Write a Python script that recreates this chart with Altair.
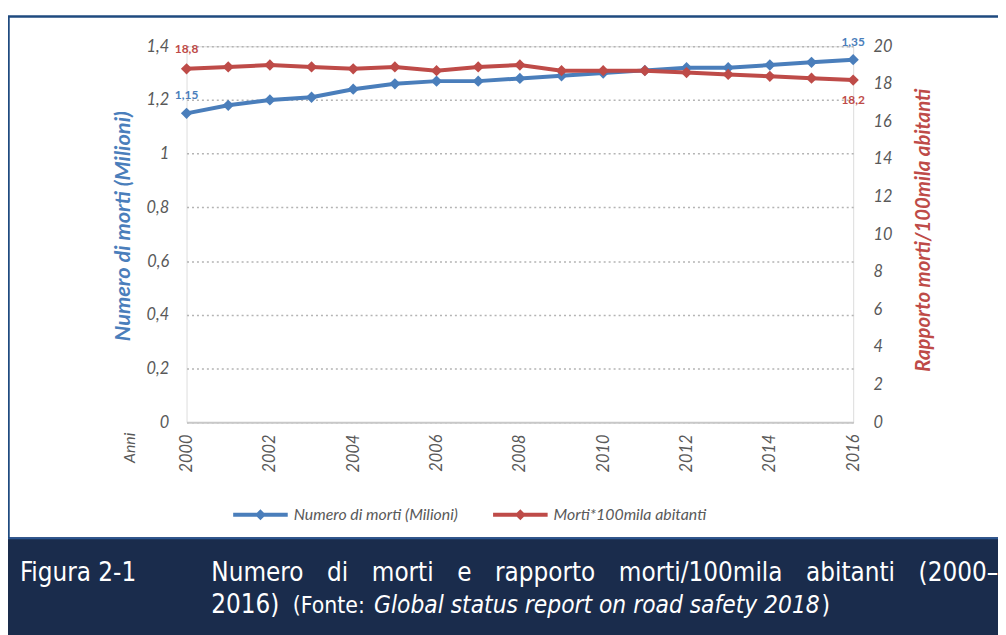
import altair as alt
import pandas as pd

# ---------------- data ----------------
anni = list(range(2000, 2017))
morti_milioni = [1.15, 1.18, 1.20, 1.21, 1.24, 1.26, 1.27, 1.27, 1.28,
                 1.29, 1.30, 1.31, 1.32, 1.32, 1.33, 1.34, 1.35]
morti_100mila = [18.8, 18.9, 19.0, 18.9, 18.8, 18.9, 18.7, 18.9, 19.0,
                 18.7, 18.7, 18.7, 18.6, 18.5, 18.4, 18.3, 18.2]
serie = ["Numero di morti (Milioni)", "Morti*100mila abitanti"]
colori = ["#4a7ebb", "#be4b48"]
tick_sx = [0, 0.2, 0.4, 0.6, 0.8, 1.0, 1.2, 1.4]
tick_dx = list(range(0, 21, 2))
tick_anni = list(range(2000, 2017, 2))
titolo_sx = "Numero di morti (Milioni)"
titolo_dx = "Rapporto morti/100mila abitanti"
titolo_x = "Anni"
didascalia_num = "Figura 2-1"
didascalia_1 = "Numero di morti e rapporto morti/100mila abitanti (2000–"
didascalia_2a = "2016)"
didascalia_2b = "(Fonte: "
didascalia_2c = "Global status report on road safety 2018"
didascalia_2d = ")"

df = pd.DataFrame({"anno": anni, "morti": morti_milioni, "tasso": morti_100mila})
one = pd.DataFrame({"k": [0]})

W, H = 672, 379
FONT = "Lato"
GRAY = "#595959"
NAVY = "#1a2c4c"
FRAME = "#1f4a7f"
CAPFONT = "DejaVu Sans Condensed"

x = alt.X("anno:Q", scale=alt.Scale(domain=[2000, 2016], nice=False, zero=False),
          axis=alt.Axis(values=tick_anni, format="d", labelAngle=270,
                        labelAlign="right", labelBaseline="middle", labelPadding=12,
                        labelFont=FONT, labelFontSize=16.5, labelFontStyle="italic",
                        labelColor=GRAY, grid=False, ticks=False,
                        domain=True, domainColor="#c8c8c8", domainWidth=2,
                        title=titolo_x, titleAngle=270, titleAlign="right",
                        titleBaseline="middle", titleX=-57, titleY=10,
                        titleFont=FONT, titleFontSize=16, titleFontStyle="italic",
                        titleFontWeight="normal", titleColor=GRAY))

y_sx = alt.Y("morti:Q", scale=alt.Scale(domain=[0, 1.4], nice=False),
             axis=alt.Axis(values=tick_sx, format=".1~f", orient="left",
                           labelFont=FONT, labelFontSize=16.5, labelFontStyle="italic",
                           labelColor=GRAY, labelPadding=18, ticks=False, domain=False,
                           grid=True, gridColor="#b4b4b4", gridDash=[2, 3], gridWidth=1.5,
                           title=titolo_sx, titleAngle=270, titleAlign="center",
                           titleBaseline="middle", titleX=-65, titleY=181,
                           titleFont=FONT, titleFontSize=22, titleFontStyle="italic",
                           titleFontWeight="bold", titleColor=colori[0]))

y_dx = alt.Y("tasso:Q", scale=alt.Scale(domain=[0, 20], nice=False),
             axis=alt.Axis(values=tick_dx, format="d", orient="right",
                           labelFont=FONT, labelFontSize=16.5, labelFontStyle="italic",
                           labelColor=GRAY, labelPadding=20, ticks=False, domain=False,
                           grid=False,
                           title=titolo_dx, titleAngle=270, titleAlign="center",
                           titleBaseline="middle", titleX=71, titleY=185,
                           titleFont=FONT, titleFontSize=20.5, titleFontStyle="italic",
                           titleFontWeight="bold", titleColor=colori[1]))

legend_symbol = "M-1,0L1,0M0,-0.1L0.1,0L0,0.1L-0.1,0Z"
color = alt.Color("serie:N", scale=alt.Scale(domain=serie, range=colori),
                  legend=alt.Legend(title=None, orient="none", legendX=45, legendY=442.5,
                                    direction="horizontal", symbolType=legend_symbol,
                                    symbolSize=3025, symbolStrokeWidth=4, padding=0,
                                    labelFont=FONT, labelFontSize=16, labelFontStyle="italic",
                                    labelColor=GRAY, labelOffset=4, columnPadding=27,
                                    labelLimit=400))

base = alt.Chart(df).encode(x=x)
point = alt.OverlayMarkDef(shape="diamond", size=130, filled=True)

linea_b = base.transform_calculate(serie=f"'{serie[0]}'").mark_line(
    strokeWidth=4, point=point).encode(y=y_sx, color=color)
testo_b = base.transform_filter("datum.anno == 2000 || datum.anno == 2016").mark_text(
    dy=-18, font=FONT, fontSize=12, fontWeight="bold", color=colori[0]).encode(
    y=y_sx, text=alt.Text("morti:Q", format=".2f"))

linea_r = base.transform_calculate(serie=f"'{serie[1]}'").mark_line(
    strokeWidth=4, point=point).encode(y=y_dx, color=color)
testo_r1 = base.transform_filter("datum.anno == 2000").mark_text(
    dy=-20, font=FONT, fontSize=12, fontWeight="bold", color=colori[1]).encode(
    y=y_dx, text=alt.Text("tasso:Q", format=".1f"))
testo_r2 = base.transform_filter("datum.anno == 2016").mark_text(
    dy=20, font=FONT, fontSize=12, fontWeight="bold", color=colori[1]).encode(
    y=y_dx, text=alt.Text("tasso:Q", format=".1f"))

left = alt.layer(linea_b, testo_b)
right = alt.layer(linea_r, testo_r1, testo_r2)

# ---------------- decorations (frame and caption band) ----------------
dec = alt.Chart(one)
frame_top = dec.mark_rule(color=FRAME, strokeWidth=2.5).encode(
    x=alt.value(-181), x2=alt.value(830), y=alt.value(-30))
frame_left = dec.mark_rule(color=FRAME, strokeWidth=2.5).encode(
    x=alt.value(-179.5), y=alt.value(-30), y2=alt.value(496))
band = dec.mark_rect(color=NAVY).encode(
    x=alt.value(-181), x2=alt.value(830), y=alt.value(495), y2=alt.value(600))
band_line = dec.mark_rule(color="#2b5590", strokeWidth=2).encode(
    x=alt.value(-181), x2=alt.value(830), y=alt.value(496))

# justified first caption line: widen word gaps with en + thin spaces
riga1 = didascalia_1.replace(" ", "\u2002\u2009 ")

cap_kw = dict(font=CAPFONT, color="white", align="left", baseline="middle")
cap0 = dec.mark_text(fontSize=26, **cap_kw).encode(
    x=alt.value(-168), y=alt.value(531), text=alt.value(didascalia_num))
cap1 = dec.mark_text(fontSize=26, **cap_kw).encode(
    x=alt.value(25), y=alt.value(531), text=alt.value(riga1))
cap2a = dec.mark_text(fontSize=26, **cap_kw).encode(
    x=alt.value(25), y=alt.value(563), text=alt.value(didascalia_2a))
cap2b = dec.mark_text(fontSize=23, **cap_kw).encode(
    x=alt.value(107), y=alt.value(564), text=alt.value(didascalia_2b))
cap2c = dec.mark_text(fontSize=24.5, fontStyle="italic", **cap_kw).encode(
    x=alt.value(189), y=alt.value(564), text=alt.value(didascalia_2c))
cap2d = dec.mark_text(fontSize=24.5, **cap_kw).encode(
    x=alt.value(640), y=alt.value(564), text=alt.value(didascalia_2d))

chart = alt.layer(
    band, band_line, frame_top, frame_left,
    cap0, cap1, cap2a, cap2b, cap2c, cap2d,
    left, right
).resolve_scale(y="independent").properties(
    width=W, height=H, autosize="none",
    padding={"left": 180, "top": 36, "right": 146, "bottom": 212}
).configure_view(stroke=None).configure(background="white")

chart.save("out.html", embed_options={
    "renderer": "svg", "actions": False,
    "formatLocale": {"decimal": ",", "thousands": ".", "grouping": [3],
                     "currency": ["€", ""]}})
